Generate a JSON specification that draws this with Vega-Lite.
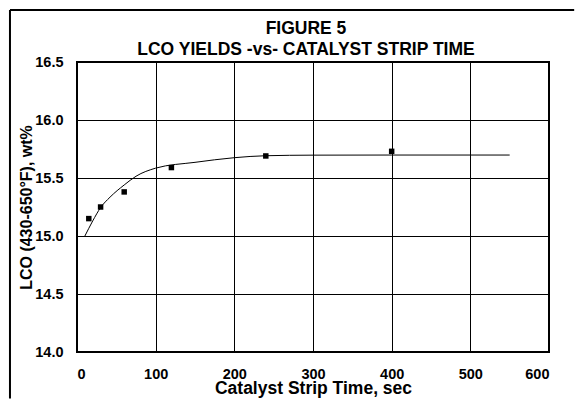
{
  "$schema": "https://vega.github.io/schema/vega-lite/v6.json",
  "width": 472,
  "height": 290,
  "autosize": {"type": "none"},
  "padding": {"left": 77, "top": 62, "right": 26, "bottom": 47},
  "background": "white",
  "title": {
    "text": ["FIGURE 5", "LCO YIELDS -vs- CATALYST STRIP TIME"],
    "font": "Liberation Sans",
    "fontSize": 17.5,
    "fontWeight": "bold",
    "color": "black",
    "anchor": "middle",
    "frame": "group",
    "dx": -7,
    "offset": -49,
    "lineHeight": 21
  },
  "config": {
    "view": {"stroke": "black", "strokeWidth": 2},
    "axis": {
      "labelFont": "Liberation Sans",
      "labelFontWeight": "bold",
      "labelFontSize": 14.5,
      "labelColor": "black",
      "titleFont": "Liberation Sans",
      "titleFontWeight": "bold",
      "titleColor": "black",
      "domain": false,
      "tickColor": "black",
      "tickWidth": 1,
      "gridColor": "black",
      "gridWidth": 1
    }
  },
  "layer": [
    {
      "data": {"values": [{"item": "frame"}]},
      "mark": {"type": "rule", "stroke": "black", "strokeWidth": 2, "clip": false},
      "encoding": {
        "x": {
          "datum": -85.2, "type": "quantitative",
          "scale": {"domain": [0, 600], "nice": false, "zero": false},
          "axis": {
            "title": "Catalyst Strip Time, sec",
            "titleFontSize": 17.5,
            "values": [0, 50, 100, 150, 200, 250, 300, 350, 400, 450, 500, 550, 600],
            "labelExpr": "datum.value % 100 === 0 ? format(datum.value, 'd') : ''",
            "tickSize": -4,
            "labelPadding": 19,
            "titlePadding": -1,
            "grid": true,
            "gridOpacity": {"condition": {"test": "datum.value % 100 === 0", "value": 1}, "value": 0}
          }
        },
        "y": {
          "datum": 16.948, "type": "quantitative",
          "scale": {"domain": [14, 16.5], "nice": false, "zero": false},
          "axis": {
            "title": "LCO (430-650°F), wt%",
            "titleFontSize": 16,
            "values": [14, 14.25, 14.5, 14.75, 15, 15.25, 15.5, 15.75, 16, 16.25, 16.5],
            "labelExpr": "datum.value % 0.5 === 0 ? format(datum.value, '.1f') : ''",
            "tickSize": -4,
            "labelPadding": 18,
            "titlePadding": 0,
            "grid": true,
            "gridOpacity": {"condition": {"test": "datum.value % 0.5 === 0", "value": 1}, "value": 0}
          }
        },
        "y2": {"datum": 13.6}
      }
    },
    {
      "data": {"values": [{"item": "frame"}]},
      "mark": {"type": "rule", "stroke": "black", "strokeWidth": 2, "clip": false},
      "encoding": {
        "x": {"datum": -85.2, "type": "quantitative"},
        "x2": {"datum": 632},
        "y": {"datum": 16.948, "type": "quantitative"}
      }
    },
    {
      "data": {
        "values": [
          {"time": 10, "lco": 15.0},
          {"time": 20, "lco": 15.13},
          {"time": 30, "lco": 15.245},
          {"time": 42, "lco": 15.335},
          {"time": 60, "lco": 15.44},
          {"time": 75, "lco": 15.515},
          {"time": 100, "lco": 15.585},
          {"time": 150, "lco": 15.635},
          {"time": 200, "lco": 15.675},
          {"time": 240, "lco": 15.692},
          {"time": 300, "lco": 15.697},
          {"time": 400, "lco": 15.698},
          {"time": 550, "lco": 15.698}
        ]
      },
      "mark": {"type": "line", "color": "black", "strokeWidth": 1, "interpolate": "monotone"},
      "encoding": {
        "x": {
          "field": "time", "type": "quantitative",
          "scale": {"domain": [0, 600], "nice": false, "zero": false},
          "axis": {
            "title": "Catalyst Strip Time, sec",
            "titleFontSize": 17.5,
            "values": [0, 50, 100, 150, 200, 250, 300, 350, 400, 450, 500, 550, 600],
            "labelExpr": "datum.value % 100 === 0 ? format(datum.value, 'd') : ''",
            "tickSize": -4,
            "labelPadding": 19,
            "titlePadding": -1,
            "grid": true,
            "gridOpacity": {"condition": {"test": "datum.value % 100 === 0", "value": 1}, "value": 0}
          }
        },
        "y": {
          "field": "lco", "type": "quantitative",
          "scale": {"domain": [14, 16.5], "nice": false, "zero": false},
          "axis": {
            "title": "LCO (430-650°F), wt%",
            "titleFontSize": 16,
            "values": [14, 14.25, 14.5, 14.75, 15, 15.25, 15.5, 15.75, 16, 16.25, 16.5],
            "labelExpr": "datum.value % 0.5 === 0 ? format(datum.value, '.1f') : ''",
            "tickSize": -4,
            "labelPadding": 18,
            "titlePadding": 0,
            "grid": true,
            "gridOpacity": {"condition": {"test": "datum.value % 0.5 === 0", "value": 1}, "value": 0}
          }
        }
      }
    },
    {
      "data": {
        "values": [
          {"time": 15, "lco": 15.15},
          {"time": 30, "lco": 15.25},
          {"time": 60, "lco": 15.38},
          {"time": 120, "lco": 15.59},
          {"time": 240, "lco": 15.69},
          {"time": 400, "lco": 15.73}
        ]
      },
      "mark": {"type": "point", "shape": "square", "filled": true, "color": "black", "size": 30, "opacity": 1},
      "encoding": {
        "x": {
          "field": "time", "type": "quantitative",
          "axis": {
            "title": "Catalyst Strip Time, sec",
            "titleFontSize": 17.5,
            "values": [0, 50, 100, 150, 200, 250, 300, 350, 400, 450, 500, 550, 600],
            "labelExpr": "datum.value % 100 === 0 ? format(datum.value, 'd') : ''",
            "tickSize": -4,
            "labelPadding": 19,
            "titlePadding": -1,
            "grid": true,
            "gridOpacity": {"condition": {"test": "datum.value % 100 === 0", "value": 1}, "value": 0}
          }
        },
        "y": {
          "field": "lco", "type": "quantitative",
          "axis": {
            "title": "LCO (430-650°F), wt%",
            "titleFontSize": 16,
            "values": [14, 14.25, 14.5, 14.75, 15, 15.25, 15.5, 15.75, 16, 16.25, 16.5],
            "labelExpr": "datum.value % 0.5 === 0 ? format(datum.value, '.1f') : ''",
            "tickSize": -4,
            "labelPadding": 18,
            "titlePadding": 0,
            "grid": true,
            "gridOpacity": {"condition": {"test": "datum.value % 0.5 === 0", "value": 1}, "value": 0}
          }
        }
      }
    }
  ]
}
